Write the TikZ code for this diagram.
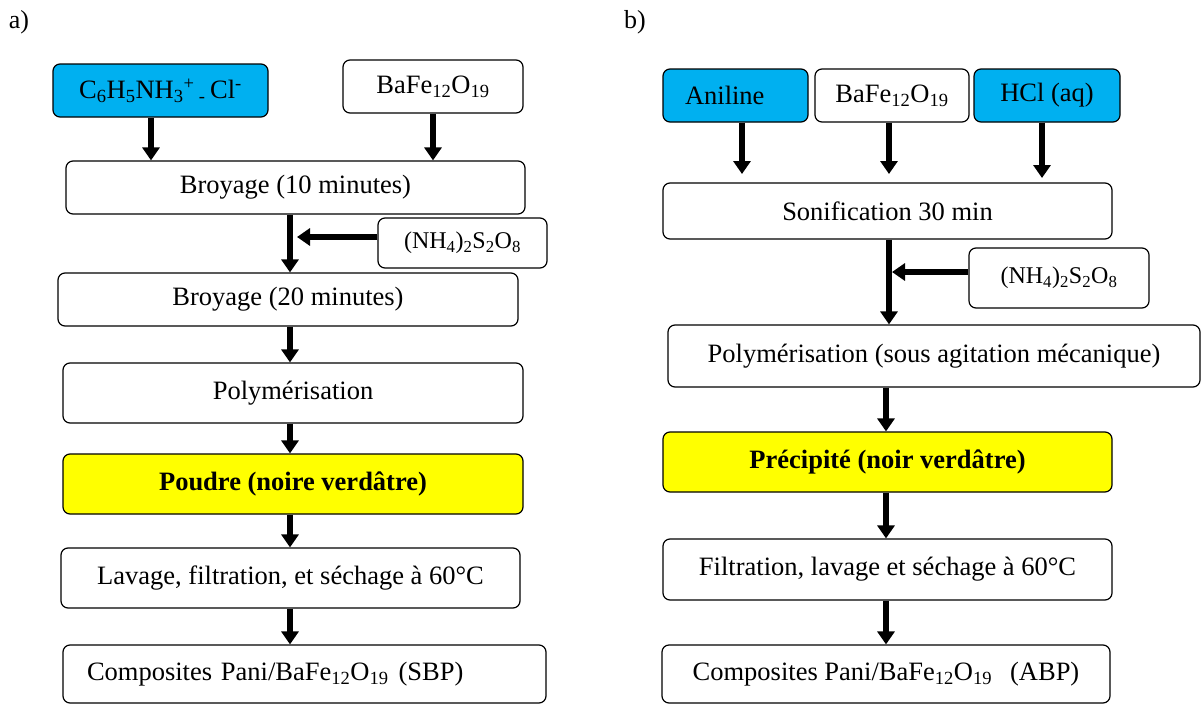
\documentclass[tikz,border=0pt]{standalone}
\usepackage{fontspec}
\setmainfont{Liberation Serif}
\usetikzlibrary{arrows.meta}
\definecolor{cyanbox}{HTML}{00B0F0}
\definecolor{yellowbox}{HTML}{FFFF00}
\begin{document}
\begin{tikzpicture}[x=1pt,y=-1pt,
  box/.style={draw=black, line width=1.2pt, rounded corners=7pt, fill=white, inner sep=0pt,
    font=\fontsize{26.5}{31}\selectfont},
  bluebox/.style={box, fill=cyanbox},
  yelbox/.style={box, fill=yellowbox, font=\fontsize{26.5}{31}\selectfont\bfseries},
  smallbox/.style={box, font=\fontsize{24}{28}\selectfont},
  lbl/.style={font=\fontsize{26}{30}\selectfont, inner sep=0pt},
  arr/.style={line width=6.5pt, -{Triangle[width=17pt,length=13pt]}},
]
\useasboundingbox (0,0) rectangle (1202,704);
\fill[white] (0,0) rectangle (1202,704);

% ---------- panel a ----------
\node[lbl] (la) at (19,22) {a)};
\node[bluebox, minimum width=215pt, minimum height=53pt] (c6) at (160.5,90.5)
  {C\textsubscript{6}H\textsubscript{5}NH\textsubscript{3}\textsuperscript{+}\,\textsubscript{-}\,Cl\textsuperscript{-}};
\node[box, minimum width=180pt, minimum height=53pt] (ba) at (433,86.5)
  {BaFe\textsubscript{12}O\textsubscript{19}};
\node[box, minimum width=459pt, minimum height=53pt] (br10) at (295.5,187.5) {Broyage (10 minutes)};
\node[smallbox, minimum width=169pt, minimum height=50pt] (nha) at (462.5,243)
  {(NH\textsubscript{4})\textsubscript{2}S\textsubscript{2}O\textsubscript{8}};
\node[box, minimum width=460pt, minimum height=53pt] (br20) at (288,299.5) {Broyage (20 minutes)};
\node[box, minimum width=460pt, minimum height=60pt] (pola) at (293,393) {Polymérisation};
\node[yelbox, minimum width=460pt, minimum height=60pt] (pou) at (293,484) {Poudre (noire verdâtre)};
\node[box, minimum width=459pt, minimum height=60pt] (lav) at (290.5,578) {Lavage, filtration, et séchage à 60°C};
\node[box, minimum width=483pt, minimum height=58pt, inner xsep=24pt, text width=435pt, align=left] (coma) at (304.5,674)
  {Composites Pani/BaFe\textsubscript{12}O\textsubscript{19}\hspace{10pt}(SBP)};

\coordinate (xa1) at (151,0);
\coordinate (xa2) at (433,0);
\coordinate (xa3) at (290,0);
\coordinate (ya1) at (0,237);
\coordinate (tipa) at (297,237);
\draw[arr] (c6.south -| xa1) -- (br10.north -| xa1);
\draw[arr] (ba.south -| xa2) -- (br10.north -| xa2);
\draw[arr] (br10.south -| xa3) -- (br20.north -| xa3);
\draw[arr] (nha.west |- ya1) -- (tipa);
\draw[arr] (br20.south -| xa3) -- (pola.north -| xa3);
\draw[arr] (pola.south -| xa3) -- (pou.north -| xa3);
\draw[arr] (pou.south -| xa3) -- (lav.north -| xa3);
\draw[arr] (lav.south -| xa3) -- (coma.north -| xa3);

% ---------- panel b ----------
\node[lbl] (lb) at (635,22) {b)};
\node[bluebox, minimum width=145pt, minimum height=53pt, inner xsep=22pt, text width=101pt, align=left] (ani) at (735.5,95.5) {Aniline};
\node[box, minimum width=154pt, minimum height=53pt] (bab) at (892,95.5)
  {BaFe\textsubscript{12}O\textsubscript{19}};
\node[bluebox, minimum width=146pt, minimum height=53pt] (hcl) at (1047,95.5) {HCl (aq)};
\node[box, minimum width=449pt, minimum height=56pt] (son) at (887.5,211) {Sonification 30 min};
\node[smallbox, minimum width=180pt, minimum height=60pt] (nhb) at (1059,278)
  {(NH\textsubscript{4})\textsubscript{2}S\textsubscript{2}O\textsubscript{8}};
\node[box, minimum width=532pt, minimum height=62pt] (polb) at (934,356) {Polymérisation (sous agitation mécanique)};
\node[yelbox, minimum width=449pt, minimum height=60pt] (pre) at (887.5,462) {Précipité (noir verdâtre)};
\node[box, minimum width=449pt, minimum height=61pt] (fil) at (887.5,569.5) {Filtration, lavage et séchage à 60°C};
\node[box, minimum width=448pt, minimum height=58pt] (comb) at (886,674)
  {Composites Pani/BaFe\textsubscript{12}O\textsubscript{19}\hspace{18pt}(ABP)};

\coordinate (eb1) at (742,174);
\coordinate (eb2) at (889,174);
\coordinate (eb3) at (1042,178);
\coordinate (xb2) at (889,0);
\coordinate (xb4) at (886,0);
\coordinate (yb1) at (0,272);
\coordinate (tipb) at (892,272);
\draw[arr] (ani.south -| eb1) -- (eb1);
\draw[arr] (bab.south -| eb2) -- (eb2);
\draw[arr] (hcl.south -| eb3) -- (eb3);
\draw[arr] (son.south -| xb2) -- (polb.north -| xb2);
\draw[arr] (nhb.west |- yb1) -- (tipb);
\draw[arr] (polb.south -| xb4) -- (pre.north -| xb4);
\draw[arr] (pre.south -| xb4) -- (fil.north -| xb4);
\draw[arr] (fil.south -| xb4) -- (comb.north -| xb4);
\end{tikzpicture}
\end{document}
